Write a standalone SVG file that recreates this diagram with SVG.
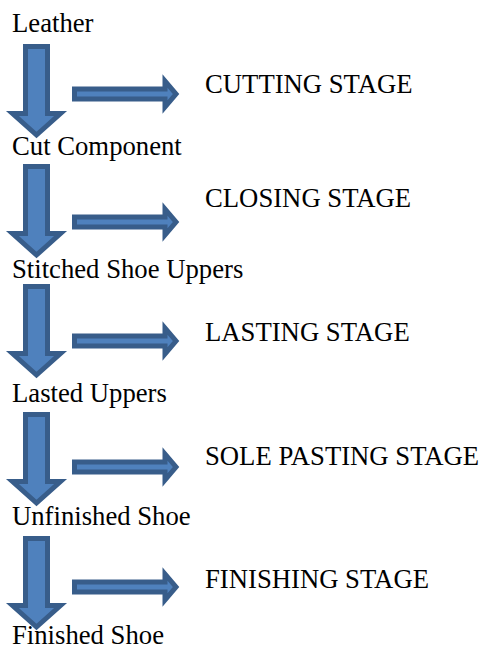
<svg xmlns="http://www.w3.org/2000/svg" width="485" height="650" viewBox="0 0 485 650">
  <defs>
    <style>
      .lbl { font-family: 'Liberation Serif', 'Times New Roman', serif; font-size: 26.7px; fill: #000; }
      .arr { fill: #4f81bd; stroke: #385d8a; stroke-width: 5; stroke-miterlimit: 10; }
    </style>
    <!-- block arrow pointing down, top edge at y=0 -->
    <path id="down" d="M25.5,2.5 H47.5 V69.5 H60.5 L36.5,91 L12.5,69.5 H25.5 Z"/>
    <!-- block arrow pointing right, centred on y=0 -->
    <path id="right" d="M74.5,-5 H165 V-13 L176,0 L165,13 V5 H74.5 Z"/>
  </defs>

  <rect width="485" height="650" fill="#fff"/>

  <!-- product states -->
  <g id="leather"><text class="lbl" x="12" y="32">Leather</text></g>
  <g id="cut-component"><text class="lbl" x="12" y="155">Cut Component</text></g>
  <g id="stitched-uppers"><text class="lbl" x="12" y="278">Stitched Shoe Uppers</text></g>
  <g id="lasted-uppers"><text class="lbl" x="12" y="402">Lasted Uppers</text></g>
  <g id="unfinished-shoe"><text class="lbl" x="12" y="525">Unfinished Shoe</text></g>
  <g id="finished-shoe"><text class="lbl" x="12" y="644">Finished Shoe</text></g>

  <!-- process stages -->
  <g id="cutting"><text class="lbl" x="205" y="93">CUTTING STAGE</text></g>
  <g id="closing"><text class="lbl" x="205" y="207">CLOSING STAGE</text></g>
  <g id="lasting"><text class="lbl" x="205" y="341">LASTING STAGE</text></g>
  <g id="sole-pasting"><text class="lbl" x="205" y="465">SOLE PASTING STAGE</text></g>
  <g id="finishing"><text class="lbl" x="205" y="588">FINISHING STAGE</text></g>

  <!-- connectors -->
  <g id="connectors">
    <use href="#down" class="arr" transform="translate(0,44)"/>
    <use href="#right" class="arr" transform="translate(0,94)"/>
    <use href="#down" class="arr" transform="translate(0,164)"/>
    <use href="#right" class="arr" transform="translate(0,222)"/>
    <use href="#down" class="arr" transform="translate(0,284)"/>
    <use href="#right" class="arr" transform="translate(0,341)"/>
    <use href="#down" class="arr" transform="translate(0,412)"/>
    <use href="#right" class="arr" transform="translate(0,467)"/>
    <use href="#down" class="arr" transform="translate(0,536)"/>
    <use href="#right" class="arr" transform="translate(0,587)"/>
  </g>
</svg>
